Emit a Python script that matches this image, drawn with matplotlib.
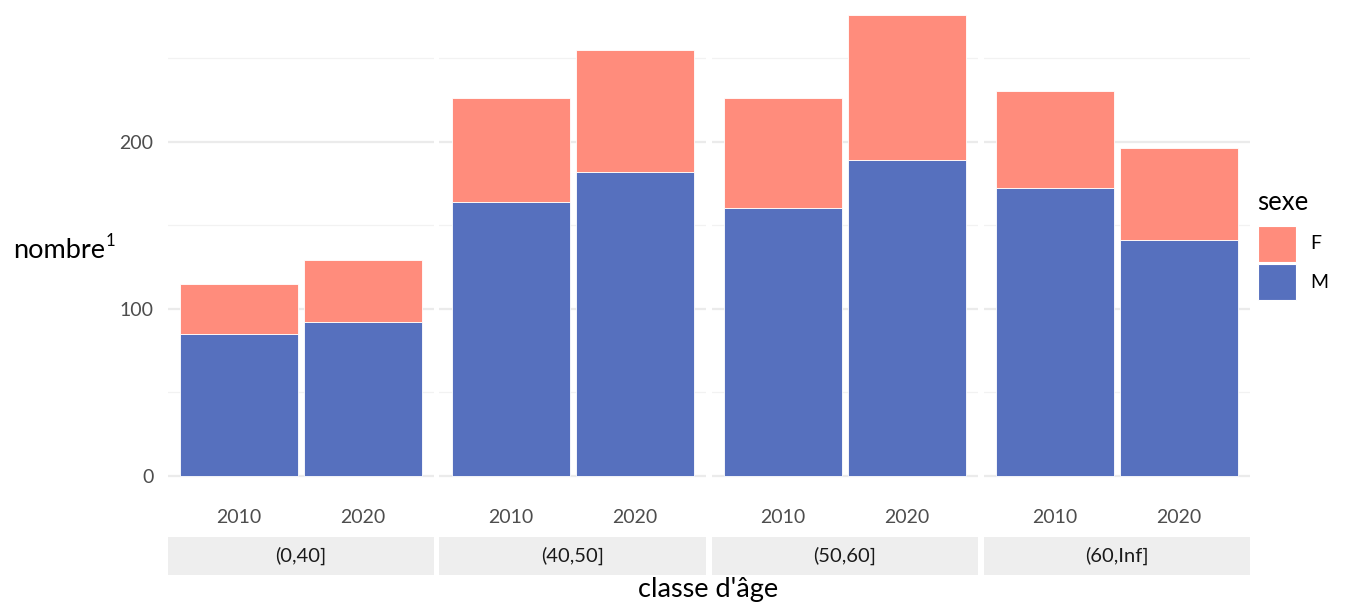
import matplotlib
matplotlib.use("Agg")
import matplotlib.pyplot as plt
import numpy as np

classes = ["(0,40]", "(40,50]", "(50,60]", "(60,Inf]"]
years = ["2010", "2020"]
male = [[85, 92], [164, 182], [160, 189], [172, 141]]
female = [[30, 37], [62, 73], [66, 87], [58, 55]]
sex_labels = ["F", "M"]
col_F = "#FF8C7C"
col_M = "#5670BE"

plt.rcParams["font.family"] = ["Lato", "DejaVu Sans"]

W, H = 1356, 603
fig = plt.figure(figsize=(W / 100, H / 100), dpi=100)

def fx(px):
    return px / W

def fy(py):
    return 1 - py / H

panel_left = 167.5
panel_w = 266.5
gap = 5.5
ptop, pbot = 0, 499
strip_top, strip_bot = 537, 575

# y scale: 0 at 476 px, 250 at 58 px
ppu = (476 - 58) / 250.0
ymin = -(pbot - 476) / ppu
ymax = (476 - ptop) / ppu

x = np.arange(len(years))
for i, cl in enumerate(classes):
    l = panel_left + i * (panel_w + gap)
    ax = fig.add_axes([fx(l), fy(pbot), fx(panel_w), (pbot - ptop) / H])
    m = np.array(male[i])
    f = np.array(female[i])
    ax.bar(x, m, width=0.95, color=col_M, edgecolor="white", linewidth=0.6, zorder=3)
    ax.bar(x, f, bottom=m, width=0.95, color=col_F, edgecolor="white", linewidth=0.6, zorder=3)
    ax.set_xlim(-0.573, 1.573)
    ax.set_ylim(ymin, ymax)
    ax.set_yticks([0, 100, 200])
    ax.set_yticks([50, 150, 250], minor=True)
    ax.grid(axis="y", which="major", color="#EBEBEB", linewidth=1.6, zorder=0)
    ax.grid(axis="y", which="minor", color="#F2F2F2", linewidth=0.9, zorder=0)
    ax.set_xticks(x)
    ax.set_xticklabels(years, fontsize=14, color="#4D4D4D")
    ax.tick_params(axis="both", which="both", length=0)
    ax.tick_params(axis="x", pad=7)
    if i == 0:
        ax.set_yticklabels(["0", "100", "200"], fontsize=14, color="#4D4D4D")
        ax.tick_params(axis="y", pad=10)
    else:
        ax.set_yticklabels([])
    for s in ax.spines.values():
        s.set_visible(False)
    # strip
    sax = fig.add_axes([fx(l), fy(strip_bot), fx(panel_w), (strip_bot - strip_top) / H])
    sax.set_facecolor("#EEEEEE")
    sax.set_xticks([])
    sax.set_yticks([])
    for s in sax.spines.values():
        s.set_visible(False)
    sax.text(0.5, 0.5, cl, ha="center", va="center", fontsize=14.5, color="#1A1A1A",
             transform=sax.transAxes)

fig.text(fx(708), fy(590), "classe d'âge", ha="center", va="center", fontsize=19.5, color="black")
ylab = fig.text(fx(13), fy(258), "nombre", ha="left", va="baseline", fontsize=19.5, color="black")
fig.canvas.draw()
bb = ylab.get_window_extent()
fig.text((bb.x1 + 0.5) / W, fy(233), "1", ha="left", va="top", fontsize=12, color="black")

# legend
fig.text(fx(1257), fy(202), "sexe", ha="left", va="center", fontsize=18.5, color="black")
leg_cols = [col_F, col_M]
for j, (lab, c) in enumerate(zip(sex_labels, leg_cols)):
    top = 226 + j * 38
    fig.patches.append(matplotlib.patches.Rectangle((fx(1258), fy(top + 36)), fx(38), 36 / H,
                                                    facecolor=c, edgecolor="white", linewidth=0.8,
                                                    transform=fig.transFigure, figure=fig))
    fig.text(fx(1310), fy(top + 18), lab, ha="left", va="center", fontsize=14, color="black")

fig.savefig("out.png", dpi=100)
